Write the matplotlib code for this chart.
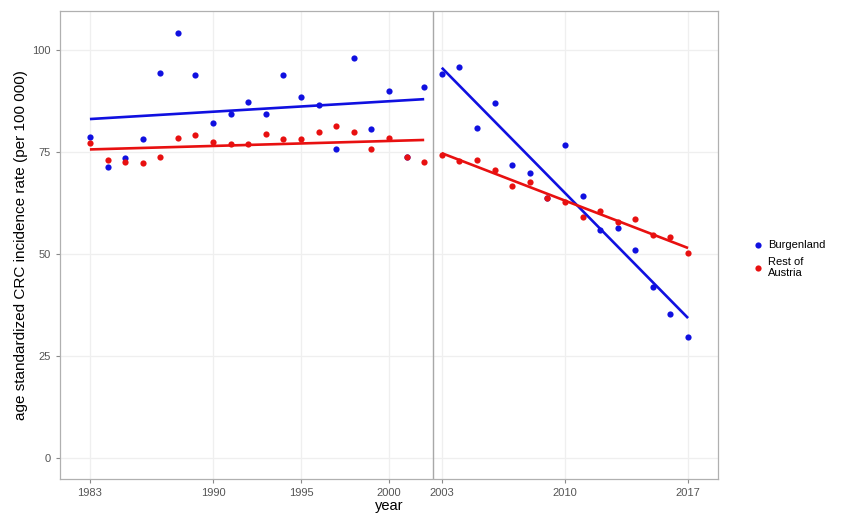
import numpy as np
import matplotlib
matplotlib.use('Agg')
import matplotlib.pyplot as plt

plt.rcParams['font.family'] = ['Liberation Sans', 'DejaVu Sans']

# 연도
years = list(range(1983, 2018))

# Burgenland (2001, 2009 값은 빨간 점 뒤에 가려져 있음 - 추정)
burgenland = [78.8, 71.4, 73.6, 78.2, 94.5, 104.3, 94.0, 82.3, 84.5, 87.3,
              84.5, 94.0, 88.7, 86.5, 75.9, 98.1, 80.8, 90.0, 73.8, 91.0,
              94.3, 95.9, 81.0, 87.1, 72.0, 69.9, 63.8, 76.9, 64.2, 55.9,
              56.4, 51.1, 42.0, 35.3, 29.7]

# Rest of Austria
rest_austria = [77.4, 73.2, 72.6, 72.5, 73.8, 78.5, 79.3, 77.5, 77.1, 77.0,
                79.6, 78.3, 78.2, 80.1, 81.4, 80.0, 75.9, 78.6, 73.8, 72.6,
                74.3, 72.8, 73.2, 70.6, 66.7, 67.7, 63.8, 62.7, 59.2, 60.5,
                57.9, 58.6, 54.8, 54.2, 50.2]

tick_years = [1983, 1990, 1995, 2000, 2003, 2010, 2017]
break_year = 2002.5

fig = plt.figure(figsize=(8.43, 5.13), dpi=100)
ax = fig.add_axes([0.0712, 0.0663, 0.7805, 0.9123])

yrs = np.array(years)
groups = [('Burgenland', burgenland, '#1010e0'), ('Rest of\nAustria', rest_austria, '#e81010')]

# 점 그리기
for name, vals, col in groups:
    ax.scatter(yrs, vals, s=20, color=col, label=name, zorder=3, linewidths=0)

# 구간별 선형 회귀선
for name, vals, col in groups:
    vals = np.array(vals)
    for mask in [yrs < break_year, yrs > break_year]:
        k, b = np.polyfit(yrs[mask], vals[mask], 1)
        xx = np.array([yrs[mask].min(), yrs[mask].max()])
        ax.plot(xx, k * xx + b, color=col, lw=1.9, zorder=4, solid_capstyle='butt')

ax.axvline(break_year, color='#a8a8a8', lw=1.0, zorder=2)

ax.set_xlim(1981.3, 2018.7)
ax.set_ylim(-5.2, 109.7)
ax.set_xticks(tick_years)
ax.set_yticks([0, 25, 50, 75, 100])

ax.grid(True, color='#efefef', lw=0.9, zorder=0)
ax.set_axisbelow(True)
for s in ax.spines.values():
    s.set_color('#b0b0b0')
    s.set_linewidth(0.9)
ax.tick_params(colors='#8a8a8a', labelcolor='#555555', labelsize=8, length=3)

ax.set_xlabel('year', fontsize=10.5, labelpad=1)
ax.set_ylabel('age standardized CRC incidence rate (per 100 000)', fontsize=11, labelpad=3)

leg = ax.legend(loc='center left', bbox_to_anchor=(1.035, 0.47), frameon=False,
                fontsize=8, handletextpad=0.3, markerscale=1.0, labelspacing=0.6,
                handlelength=1.2)

fig.savefig('out.png', dpi=100)
